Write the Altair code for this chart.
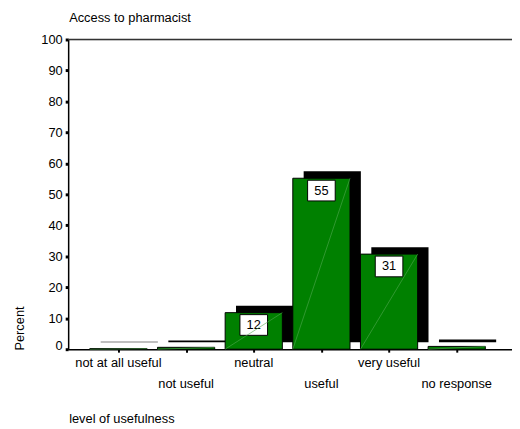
import altair as alt
import pandas as pd

# ---- data ----
categories = ["not at all useful", "not useful", "neutral", "useful", "very useful", "no response"]
percents = [0.2, 0.6, 11.8, 55.2, 30.7, 0.9]
value_labels = ["", "", "12", "55", "31", ""]
y_ticks = [0, 10, 20, 30, 40, 50, 60, 70, 80, 90, 100]

title_text = "Access to pharmacist"
x_title = "level of usefulness"
y_title = "Percent"

df = pd.DataFrame({
    "category": categories,
    "pct": percents,
    "lab": value_labels,
    "idx": list(range(len(categories))),
})

W, H = 450, 314
FONT = "Liberation Sans"
FS = 13
HALF = 0.4227  # half bar width in category units

x_scale = alt.Scale(domain=[-0.743, 5.817], nice=False, zero=False)
y_scale = alt.Scale(domain=[0, 100], nice=False)

base = alt.Chart(df).transform_calculate(
    x0=f"datum.idx - {HALF}", x1=f"datum.idx + {HALF}", zero="0"
)

x_axis = alt.Axis(values=list(range(len(categories))), labels=False, title=None,
                  grid=False, tickSize=3, tickWidth=2, tickColor="black",
                  domainColor="black", domainWidth=1.5)
y_axis = alt.Axis(values=y_ticks, title=None, grid=False, tickSize=3, tickWidth=3,
                  tickColor="black", domainColor="black", domainWidth=1.5,
                  labelFont=FONT, labelFontSize=FS, labelColor="black", labelPadding=3,
                  labelOverlap=False,
                  labelOffset={"condition": {"test": "datum.value == 0", "value": -4},
                               "value": 0})


def X(field):
    return alt.X(field, scale=x_scale, axis=x_axis)


def Y(field):
    return alt.Y(field, scale=y_scale, axis=y_axis)


shadow = base.mark_bar(color="black", xOffset=11, x2Offset=11, yOffset=-7, y2Offset=-7).encode(
    x=X("x0:Q"), x2="x1:Q", y=Y("pct:Q"), y2="zero:Q",
)

front = base.mark_bar(color="#008000", stroke="black", strokeWidth=1).encode(
    x=X("x0:Q"), x2="x1:Q", y=Y("pct:Q"), y2="zero:Q",
)

diag = base.mark_rule(color="#52a852", strokeWidth=0.6).encode(
    x=X("x0:Q"), x2="x1:Q", y=Y("zero:Q"), y2="pct:Q",
)

boxes = base.transform_filter("datum.lab != ''").mark_rect(
    fill="white", stroke="black", strokeWidth=1,
    xOffset=-14, x2Offset=14, yOffset=2, y2Offset=23
).encode(
    x=X("idx:Q"), x2="idx:Q", y=Y("pct:Q"), y2="pct:Q",
)

box_text = base.transform_filter("datum.lab != ''").mark_text(
    font=FONT, fontSize=FS, color="black", baseline="middle", dy=12.5
).encode(
    x=X("idx:Q"), y=Y("pct:Q"), text="lab:N",
)

xlab_row1 = base.transform_filter("datum.idx % 2 == 0").mark_text(
    font=FONT, fontSize=FS, color="black", baseline="middle"
).encode(x=X("idx:Q"), y=alt.value(328), text="category:N")

xlab_row2 = base.transform_filter("datum.idx % 2 == 1").mark_text(
    font=FONT, fontSize=FS, color="black", baseline="middle"
).encode(x=X("idx:Q"), y=alt.value(349), text="category:N")

one = alt.Data(values=[{"k": 1}])
top_line = alt.Chart(one).mark_rule(color="#333333", strokeWidth=1.5).encode(
    x=alt.value(0), x2=alt.value(W), y=alt.value(0)
)
title_mark = alt.Chart(one).mark_text(
    text=title_text, font=FONT, fontSize=FS, align="left", baseline="middle", color="black"
).encode(x=alt.value(1), y=alt.value(-22))
xtitle_mark = alt.Chart(one).mark_text(
    text=x_title, font=FONT, fontSize=FS, align="left", baseline="middle", color="black"
).encode(x=alt.value(1), y=alt.value(385))
ytitle_mark = alt.Chart(one).mark_text(
    text=y_title, font=FONT, fontSize=FS, align="center", baseline="middle", angle=270, color="black"
).encode(x=alt.value(-49), y=alt.value(293))

chart = alt.layer(
    shadow, front, boxes, box_text, diag, xlab_row1, xlab_row2,
    top_line, title_mark, xtitle_mark, ytitle_mark
).properties(
    width=W, height=H,
    autosize=alt.AutoSizeParams(type="none"),
    padding={"left": 61, "top": 29, "right": 0, "bottom": 80},
).configure_view(stroke=None).configure(background="white")

chart.save("out.html", embed_options={"renderer": "svg", "actions": False})
